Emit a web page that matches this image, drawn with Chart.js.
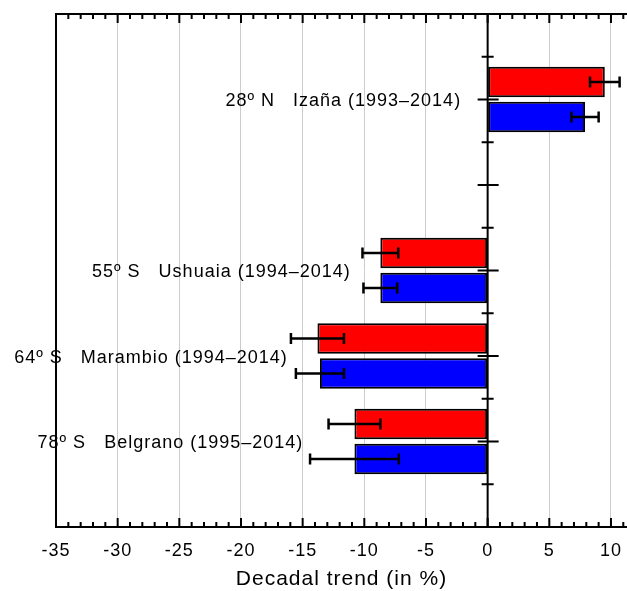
<!DOCTYPE html>
<html>
<head>
<meta charset="utf-8">
<script src="https://cdn.jsdelivr.net/npm/chart.js@4"></script>
<style>
    body { margin: 0; background: #fff; }
    #graphique { display: block; }
</style>
</head>
<body>
<canvas id="graphique" width="627" height="591"></canvas>
<script>
// category slots from top to bottom (first and last are empty padding slots)
const categories = ["", "Izaña", "", "Ushuaia", "Marambio", "Belgrano", ""];
const stationLabels = [null, "28º N   Izaña (1993–2014)", null, "55º S   Ushuaia (1994–2014)", "64º S   Marambio (1994–2014)", "78º S   Belgrano (1995–2014)", null];
// where each label text ends, in % units
const labelEnd = [null, -2.15, null, -11.1, -16.2, -14.95, null];

const redTrend = [null, 9.5, null, -8.7, -13.8, -10.8, null];
const redErr = [null, 1.2, null, 1.45, 2.15, 2.1, null];
const blueTrend = [null, 7.9, null, -8.7, -13.6, -10.8, null];
const blueErr = [null, 1.1, null, 1.37, 1.95, 3.6, null];

const xTicksMin = -35;
const xTicksMax = 11.3;

const fontFamily = "'Liberation Sans', Arial, sans-serif";

const decorPlugin = {
    id: "decor",
    beforeDraw(chart) {
        chart.ctx.letterSpacing = "1px";
    },
    afterDatasetsDraw(chart) {
        const ctx = chart.ctx;
        const area = chart.chartArea;
        const xs = chart.scales.x;
        const ys = chart.scales.y;
        ctx.save();
        ctx.strokeStyle = "#000";
        ctx.lineCap = "butt";

        // error bars
        ctx.lineWidth = 2.5;
        const errs = [redErr, blueErr];
        chart.data.datasets.forEach((ds, d) => {
            const meta = chart.getDatasetMeta(d);
            meta.data.forEach((el, i) => {
                const v = ds.data[i];
                if (v === null) return;
                const e = errs[d][i];
                const x1 = xs.getPixelForValue(v - e);
                const x2 = xs.getPixelForValue(v + e);
                ctx.beginPath();
                ctx.moveTo(x1, el.y);
                ctx.lineTo(x2, el.y);
                ctx.moveTo(x1, el.y - 5.5);
                ctx.lineTo(x1, el.y + 5.5);
                ctx.moveTo(x2, el.y - 5.5);
                ctx.lineTo(x2, el.y + 5.5);
                ctx.stroke();
            });
        });

        // zero line with its ticks
        const x0 = xs.getPixelForValue(0);
        ctx.lineWidth = 2;
        ctx.beginPath();
        ctx.moveTo(x0, area.top);
        ctx.lineTo(x0, area.bottom);
        for (let i = 1; i <= 5; i++) {
            const y = ys.getPixelForValue(i);
            ctx.moveTo(x0 - 10, y);
            ctx.lineTo(x0 + 11, y);
        }
        for (let i = 0.5; i <= 5.5; i++) {
            const y = ys.getPixelForValue(i);
            ctx.moveTo(x0 - 6, y);
            ctx.lineTo(x0 + 6, y);
        }
        ctx.stroke();

        // frame (left, top, bottom) and inward x ticks
        ctx.beginPath();
        ctx.moveTo(area.right + 1, area.top);
        ctx.lineTo(area.left, area.top);
        ctx.lineTo(area.left, area.bottom);
        ctx.lineTo(area.right + 1, area.bottom);
        for (const t of xs.ticks) {
            const x = xs.getPixelForValue(t.value);
            const len = t.value % 5 === 0 ? 9 : 5;
            ctx.moveTo(x, area.bottom);
            ctx.lineTo(x, area.bottom - len);
            ctx.moveTo(x, area.top);
            ctx.lineTo(x, area.top + len);
        }
        ctx.stroke();

        // station labels
        ctx.fillStyle = "#000";
        ctx.font = "18px " + fontFamily;
        ctx.letterSpacing = "1px";
        ctx.textAlign = "right";
        ctx.textBaseline = "middle";
        stationLabels.forEach((txt, i) => {
            if (txt === null) return;
            ctx.fillText(txt, xs.getPixelForValue(labelEnd[i]), ys.getPixelForValue(i) + 2);
        });
        ctx.restore();
    }
};

const data = {
    labels: categories,
    datasets: [{
        label: "red",
        data: redTrend,
        backgroundColor: "#ff0000",
        borderColor: "#000",
        borderWidth: 2,
        borderSkipped: false
    }, {
        label: "blue",
        data: blueTrend,
        backgroundColor: "#0000ff",
        borderColor: "#000",
        borderWidth: 2,
        borderSkipped: false
    }]
};

const config = {
    type: "bar",
    data: data,
    options: {
        indexAxis: "y",
        responsive: false,
        animation: false,
        categoryPercentage: 0.82,
        barPercentage: 0.87,
        layout: {
            padding: { left: 56, top: 14, right: 0, bottom: 1 }
        },
        scales: {
            x: {
                type: "linear",
                min: xTicksMin,
                max: xTicksMax,
                border: { display: false },
                afterFit: (s) => { s.paddingLeft = 0; s.paddingRight = 0; },
                grid: {
                    drawTicks: false,
                    color: (c) => (c.tick && c.tick.value % 5 === 0 && c.tick.value !== 0) ? "#cccccc" : "rgba(0,0,0,0)",
                    lineWidth: 1
                },
                ticks: {
                    stepSize: 1,
                    includeBounds: false,
                    autoSkip: false,
                    maxRotation: 0,
                    padding: 15,
                    color: "#000",
                    font: { family: fontFamily, size: 18, lineHeight: 1 },
                    callback: (v) => v % 5 === 0 ? String(v) : ""
                },
                title: {
                    display: true,
                    text: "Decadal trend (in %)",
                    color: "#000",
                    font: { family: fontFamily, size: 21, lineHeight: 1 },
                    padding: { top: -6, bottom: 0 }
                }
            },
            y: {
                type: "category",
                display: false,
                offset: false,
                grid: { display: false }
            }
        },
        plugins: {
            legend: { display: false },
            tooltip: { enabled: false }
        }
    },
    plugins: [decorPlugin]
};

const chart = new Chart(
    document.querySelector("#graphique"),
    config
);
</script>
</body>
</html>
